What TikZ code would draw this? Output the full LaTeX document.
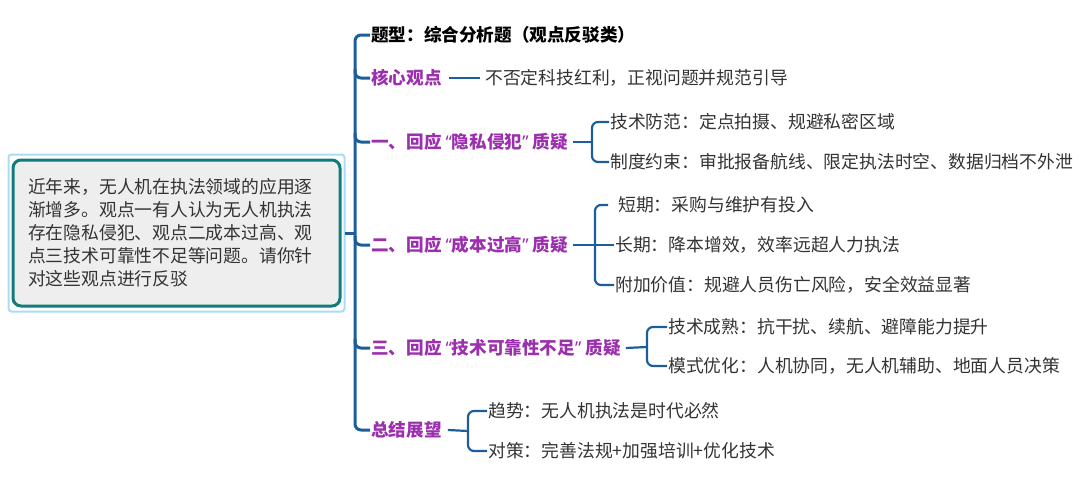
\documentclass[tikz,border=0pt]{standalone}
\usepackage{fontspec,tikz}
\usetikzlibrary{calc}
\setmainfont{Noto Sans CJK SC}
\newfontfamily\quotefont{Noto Sans}
\newcommand{\openq}{\kern4pt{\quotefont “}}
\newcommand{\closeq}{{\quotefont ”}\kern4pt}
\definecolor{trunkblue}{HTML}{1B5E9B}
\definecolor{plum}{HTML}{9B2FAE}
\definecolor{tealedge}{HTML}{127C7A}
\definecolor{glowblue}{HTML}{A8DDF2}
\definecolor{boxgray}{HTML}{EEEEEE}
\definecolor{inkgray}{HTML}{333333}
\begin{document}
\begin{tikzpicture}[x=1pt,y=-1pt,
  leaf/.style={anchor=west,inner sep=1pt,text=inkgray,font=\fontsize{17.8}{21}\selectfont},
  topic/.style={anchor=west,inner sep=1pt,text=plum,font=\fontsize{17.6}{21}\selectfont\bfseries},
  limb/.style={draw=trunkblue,line width=3pt,rounded corners=6pt},
  twig/.style={draw=trunkblue,line width=2.2pt,rounded corners=6pt}]
\path[use as bounding box] (0,0) rectangle (1080,488);
% root
\node[draw=tealedge,line width=3pt,fill=boxgray,rounded corners=8pt,minimum width=327pt,minimum height=146pt,
  inner xsep=14pt,text width=297pt,align=left,text=inkgray,font=\fontsize{17.8}{23}\selectfont] (root) at (176.5,233)
  {近年来，无人机在执法领域的应用逐\\渐增多。观点一有人认为无人机执法\\存在隐私侵犯、观点二成本过高、观\\点三技术可靠性不足等问题。请你针\\对这些观点进行反驳};
\draw[glowblue,line width=2pt,rounded corners=3pt] ($(root.north west)+(-3,-4)$) rectangle ($(root.south east)+(3,4)$);
\coordinate (tk) at (355,233);
\draw[limb] ($(root.east)+(3,0)$) -- (tk);
% main topics
\node[anchor=west,inner sep=1pt,font=\fontsize{17.6}{21}\selectfont\bfseries] (h0) at (370,35) {题型：综合分析题（观点反驳类）};
\node[topic] (h1) at (370,78) {核心观点};
\node[topic] (h2) at (370,142) {一、回应\openq 隐私侵犯\closeq 质疑};
\node[topic] (h3) at (370,245) {二、回应\openq 成本过高\closeq 质疑};
\node[topic] (h4) at (370,348) {三、回应\openq 技术可靠性不足\closeq 质疑};
\node[topic] (h5) at (370,430) {总结展望};
\draw[limb] (h0.west) -| (tk) |- (h5.west);
\foreach \h in {h1,h2,h3,h4}
  \draw[limb] ([yshift=9pt]tk |- \h.west) |- (\h.west);
% 核心观点
\node[leaf] (c1) at (484,78) {不否定科技红利，正视问题并规范引导};
\draw[twig] ([xshift=6pt]h1.east) -- ([xshift=-4pt]c1.west);
% 一
\coordinate (k2) at (592,142);
\node[leaf] (c2a) at (609,122) {技术防范：定点拍摄、规避私密区域};
\node[leaf] (c2b) at (609,162) {制度约束：审批报备航线、限定执法时空、数据归档不外泄};
\draw[twig] ([xshift=4pt]h2.east) -- (k2);
\draw[twig] (c2a.west) -| (k2) |- (c2b.west);
% 二
\coordinate (k3) at (595,245);
\node[leaf] (c3a) at (617,205) {短期：采购与维护有投入};
\node[leaf] (c3b) at (614,245) {长期：降本增效，效率远超人力执法};
\node[leaf] (c3c) at (614,285) {附加价值：规避人员伤亡风险，安全效益显著};
\draw[twig] ([xshift=4pt]h3.east) -- (c3b.west);
\draw[twig] ([xshift=-9pt]c3a.west) -| (k3) |- (c3c.west);
% 三
\coordinate (k4) at (647,347);
\node[leaf] (c4a) at (667,327) {技术成熟：抗干扰、续航、避障能力提升};
\node[leaf] (c4b) at (667,366) {模式优化：人机协同，无人机辅助、地面人员决策};
\draw[twig] ([xshift=4pt]h4.east) -- (k4);
\draw[twig] (c4a.west) -| (k4) |- (c4b.west);
% 总结
\coordinate (k5) at (468,431);
\node[leaf] (c5a) at (487,411) {趋势：无人机执法是时代必然};
\node[leaf] (c5b) at (487,451) {对策：完善法规+加强培训+优化技术};
\draw[twig] ([xshift=5pt]h5.east) -- (k5);
\draw[twig] (c5a.west) -| (k5) |- (c5b.west);
\end{tikzpicture}
\end{document}
